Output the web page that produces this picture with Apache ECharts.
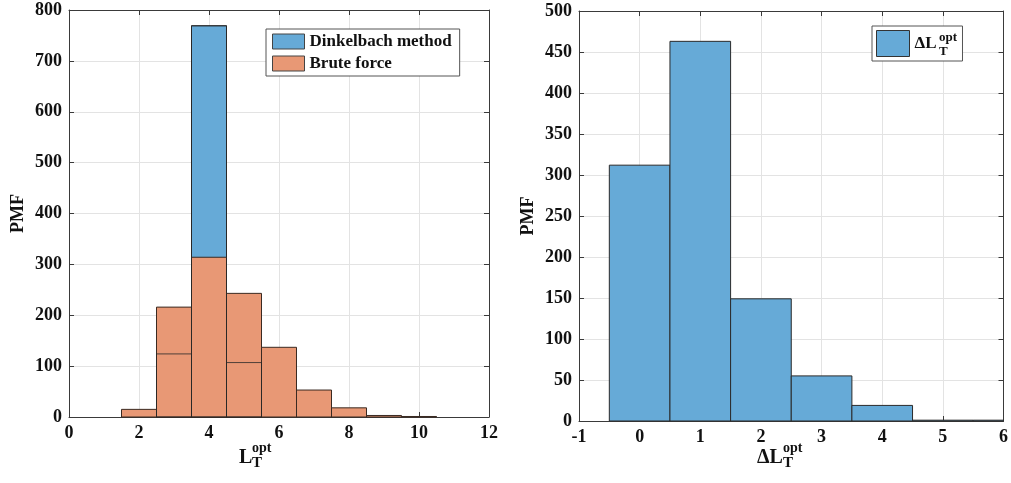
<!DOCTYPE html>
<html><head><meta charset="utf-8">
<script src="https://cdn.jsdelivr.net/npm/echarts@6/dist/echarts.min.js"></script>
<style>html,body{margin:0;padding:0;background:#fff}#c{width:1011px;height:483px}</style>
</head><body><div id="c"></div>
<script>
// ---- data ----
const leftBins = [2, 3, 4, 5, 6, 7, 8, 9, 10];
const dinkelbach = [0, 124, 769, 107, 0, 0, 0, 0, 0];
const bruteForce = [15, 216, 314, 243, 137, 53, 18, 3, 1];
const rightBins = [0, 1, 2, 3, 4, 5, 6];
const deltaL = [312, 463, 149, 55, 19, 1, 1];
const leftXTicks = {min: 0, max: 12, interval: 2};
const leftYTicks = {min: 0, max: 800, interval: 100};
const rightXTicks = {min: -1, max: 6, interval: 1};
const rightYTicks = {min: 0, max: 500, interval: 50};

const BLUE = 'rgb(102,170,215)';
const ORANGE = 'rgb(232,152,117)';
const EDGE = '#2a2a2a';
const FONT = 'Liberation Serif';
const AXC = '#3a3a3a';

function hist(fill, stroke, fillOn) {
  return function (params, api) {
    const c = api.value(0), v = api.value(1);
    if (!v) return null;
    const p1 = api.coord([c - 0.5, v]);
    const p2 = api.coord([c + 0.5, 0]);
    const cs = params.coordSys;
    const r = echarts.graphic.clipRectByRect(
      {x: p1[0], y: p1[1], width: p2[0] - p1[0], height: p2[1] - p1[1]},
      {x: cs.x, y: cs.y, width: cs.width, height: cs.height});
    if (!r) return null;
    return {type: 'rect', shape: r,
      style: {fill: fillOn ? fill : 'none', stroke: stroke, lineWidth: 1}};
  };
}
const pair = (xs, ys) => xs.map((x, i) => [x, ys[i]]);

function xAx(grid, t, pos, show) {
  return {type: 'value', gridIndex: grid, position: pos, min: t.min, max: t.max, interval: t.interval,
    axisLine: {show: true, onZero: false, lineStyle: {color: AXC, width: 1}},
    axisTick: {show: true, inside: true, length: 5, lineStyle: {color: AXC}},
    axisLabel: {show: show, color: '#111', fontFamily: FONT, fontWeight: 'bold', fontSize: 18, margin: 7},
    splitLine: {show: show, lineStyle: {color: '#e3e3e3'}}};
}
function yAx(grid, t, pos, show) {
  return {type: 'value', gridIndex: grid, position: pos, min: t.min, max: t.max, interval: t.interval,
    name: show ? 'PMF' : '', nameLocation: 'middle', nameGap: 42, nameRotate: 90,
    nameTextStyle: {color: '#111', fontFamily: FONT, fontWeight: 'bold', fontSize: 18},
    axisLine: {show: true, onZero: false, lineStyle: {color: AXC, width: 1}},
    axisTick: {show: true, inside: true, length: 5, lineStyle: {color: AXC}},
    axisLabel: {show: show, color: '#111', fontFamily: FONT, fontWeight: 'bold', fontSize: 18, margin: 7},
    splitLine: {show: show, lineStyle: {color: '#e3e3e3'}}};
}

const chart = echarts.init(document.getElementById('c'), null, {renderer: 'canvas'});
chart.setOption({
  animation: false,
  backgroundColor: '#fff',
  grid: [
    {left: 69, top: 10, width: 420, height: 407},
    {left: 579, top: 11, width: 426, height: 410}
  ],
  xAxis: [xAx(0, leftXTicks, 'bottom', true), xAx(0, leftXTicks, 'top', false),
          xAx(1, rightXTicks, 'bottom', true), xAx(1, rightXTicks, 'top', false)],
  yAxis: [yAx(0, leftYTicks, 'left', true), yAx(0, leftYTicks, 'right', false),
          yAx(1, rightYTicks, 'left', true), yAx(1, rightYTicks, 'right', false)],
  legend: [
    {data: ['Dinkelbach method', 'Brute force'], orient: 'vertical', left: 266, top: 29,
     icon: 'rect', itemWidth: 32, itemHeight: 15, itemGap: 5, padding: [4, 8, 4, 6],
     itemStyle: {borderWidth: 1, borderColor: '#444'},
     borderColor: '#555', borderWidth: 1, backgroundColor: '#fff',
     textStyle: {color: '#111', fontFamily: FONT, fontWeight: 'bold', fontSize: 17}},
    {data: ['ΔL'], orient: 'vertical', left: 872, top: 26,
     icon: 'rect', itemWidth: 33, itemHeight: 26, padding: [4, 26, 4, 4],
     itemStyle: {borderWidth: 1, borderColor: '#333'},
     borderColor: '#555', borderWidth: 1, backgroundColor: '#fff',
     textStyle: {color: '#111', fontFamily: FONT, fontWeight: 'bold', fontSize: 17}}
  ],
  series: [
    {name: 'Dinkelbach method', type: 'custom', xAxisIndex: 0, yAxisIndex: 0,
     itemStyle: {color: BLUE, borderColor: EDGE, borderWidth: 1},
     renderItem: hist(BLUE, EDGE, true), data: pair(leftBins, dinkelbach), z: 2},
    {name: 'Brute force', type: 'custom', xAxisIndex: 0, yAxisIndex: 0,
     itemStyle: {color: ORANGE, borderColor: EDGE, borderWidth: 1},
     renderItem: hist(ORANGE, '#3a2a22', true), data: pair(leftBins, bruteForce), z: 3},
    {name: 'Dinkelbach outline', type: 'custom', xAxisIndex: 0, yAxisIndex: 0,
     renderItem: hist(BLUE, 'rgba(40,40,40,0.8)', false), data: pair(leftBins, dinkelbach), z: 4},
    {name: 'ΔL', type: 'custom', xAxisIndex: 2, yAxisIndex: 2,
     itemStyle: {color: BLUE, borderColor: EDGE, borderWidth: 1},
     renderItem: hist(BLUE, EDGE, true), data: pair(rightBins, deltaL), z: 2}
  ],
  graphic: [
    // x-axis names with sub/superscripts
    {type: 'text', left: 239, top: 448, style: {text: 'L', font: 'bold 20px ' + FONT, fill: '#111'}},
    {type: 'text', left: 252, top: 441, style: {text: 'opt', font: 'bold 14px ' + FONT, fill: '#111'}},
    {type: 'text', left: 252, top: 456, style: {text: 'T', font: 'bold 15px ' + FONT, fill: '#111'}},
    {type: 'text', left: 757, top: 448, style: {text: 'ΔL', font: 'bold 20px ' + FONT, fill: '#111'}},
    {type: 'text', left: 783, top: 441, style: {text: 'opt', font: 'bold 14px ' + FONT, fill: '#111'}},
    {type: 'text', left: 783, top: 456, style: {text: 'T', font: 'bold 15px ' + FONT, fill: '#111'}},
    // legend sub/superscript
    {type: 'text', left: 939, top: 31, z: 100, style: {text: 'opt', font: 'bold 13px ' + FONT, fill: '#111'}},
    {type: 'text', left: 939, top: 45, z: 100, style: {text: 'T', font: 'bold 13px ' + FONT, fill: '#111'}}
  ]
});
</script></body></html>
